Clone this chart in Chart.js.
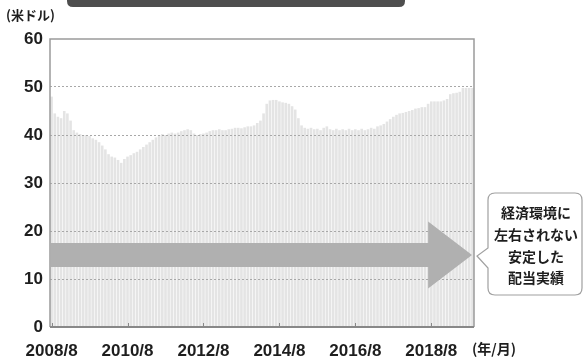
<!DOCTYPE html>
<html>
<head>
<meta charset="utf-8">
<script src="https://cdn.jsdelivr.net/npm/chart.js@4"></script>
<style>
  html, body { margin: 0; padding: 0; background: #fff; }
  #wrap { width: 584px; height: 358px; }
</style>
</head>
<body>
<div id="wrap"><canvas id="divChart" width="584" height="358"></canvas></div>
<script>
// monthly dividend, 2008/8 .. 2019/9 (US$)
var startYear = 2008, startMonth = 8;
var dividends = [
    48.0, 44.5, 43.8, 43.5, 45.0, 44.5, 43.0, 41.0, 40.5, 40.2,
    40.0, 40.0, 39.8, 39.3, 39.0, 38.5, 37.8, 37.0, 36.0, 35.5,
    35.3, 34.8, 34.2, 35.0, 35.5, 35.8, 36.2, 36.5, 37.0, 37.5,
    38.0, 38.5, 39.0, 39.5, 40.0, 40.2, 40.0, 40.3, 40.5, 40.3,
    40.5, 40.8, 41.0, 41.2, 41.0, 40.3, 40.0, 40.2, 40.3, 40.5,
    40.8, 41.0, 41.0, 41.2, 41.0, 41.0, 41.2, 41.3, 41.5, 41.5,
    41.4, 41.6, 41.8, 41.8, 42.0, 42.5, 43.0, 44.5, 46.5, 47.2,
    47.3, 47.3, 47.0, 46.8, 46.7, 46.5, 46.0, 45.3, 43.5, 42.0,
    41.5, 41.3, 41.5, 41.2, 41.3, 41.0, 41.5, 41.8, 41.2, 41.0,
    41.3, 41.0, 41.2, 41.0, 41.3, 41.0, 41.2, 41.0, 41.3, 41.0,
    41.2, 41.5, 41.3, 41.8, 42.0, 42.3, 42.8, 43.3, 43.8, 44.2,
    44.5, 44.6, 44.8, 45.0, 45.2, 45.5, 45.6, 45.8, 45.8, 46.5,
    47.0, 47.0, 47.0, 47.0, 47.2, 47.5, 48.5, 48.7, 48.8, 49.0,
    49.8, 49.8, 49.8, 49.8
];
var shownLabels = ['2008/8', '2010/8', '2012/8', '2014/8', '2016/8', '2018/8'];
var yTicks = [0, 10, 20, 30, 40, 50, 60];
var calloutLines = ['経済環境に', '左右されない', '安定した', '配当実績'];
var yUnit = '(米ドル)';
var xUnit = '(年/月)';

var months = [];
for (var i = 0; i < dividends.length; i++) {
    var m = startMonth - 1 + i;
    months.push((startYear + Math.floor(m / 12)) + '/' + (m % 12 + 1));
}

const cjk = "'Noto Sans CJK JP', sans-serif";

const decorPlugin = {
    id: 'decor',
    afterDraw(chart) {
        const ctx = chart.ctx, a = chart.chartArea;
        const xs = chart.scales.x, ys = chart.scales.y;
        ctx.save();

        // frame
        ctx.strokeStyle = '#9a9a9a';
        ctx.lineWidth = 1.5;
        ctx.beginPath();
        ctx.moveTo(a.left, a.bottom);
        ctx.lineTo(a.left, a.top);
        ctx.lineTo(a.right, a.top);
        ctx.lineTo(a.right, a.bottom);
        ctx.stroke();
        ctx.strokeStyle = '#888';
        ctx.lineWidth = 2;
        ctx.beginPath();
        ctx.moveTo(a.left, a.bottom);
        ctx.lineTo(a.right, a.bottom);
        ctx.stroke();

        // small inward ticks
        ctx.lineWidth = 1;
        shownLabels.forEach(function (lb) {
            var px = Math.round(xs.getPixelForValue(months.indexOf(lb))) + 0.5;
            ctx.beginPath();
            ctx.moveTo(px, a.bottom);
            ctx.lineTo(px, a.bottom - 4);
            ctx.stroke();
        });

        // big arrow
        var yT = ys.getPixelForValue(17.5), yB = ys.getPixelForValue(12.5);
        var hT = ys.getPixelForValue(22), hB = ys.getPixelForValue(8);
        var yM = ys.getPixelForValue(15);
        var hx = xs.getPixelForValue(119);
        var tip = a.right - 2;
        ctx.fillStyle = '#b0b0b0';
        ctx.beginPath();
        ctx.moveTo(a.left + 1, yT);
        ctx.lineTo(hx, yT);
        ctx.lineTo(hx, hT);
        ctx.lineTo(tip, yM);
        ctx.lineTo(hx, hB);
        ctx.lineTo(hx, yB);
        ctx.lineTo(a.left + 1, yB);
        ctx.closePath();
        ctx.fill();

        // callout box
        var bl = 488, br = 582, bt = 193, bb = 295, r = 7;
        ctx.fillStyle = '#fff';
        ctx.strokeStyle = '#a0a0a0';
        ctx.lineWidth = 1.2;
        ctx.beginPath();
        ctx.moveTo(bl + r, bt);
        ctx.lineTo(br - r, bt);
        ctx.quadraticCurveTo(br, bt, br, bt + r);
        ctx.lineTo(br, bb - r);
        ctx.quadraticCurveTo(br, bb, br - r, bb);
        ctx.lineTo(bl + r, bb);
        ctx.quadraticCurveTo(bl, bb, bl, bb - r);
        ctx.lineTo(bl, 268);
        ctx.lineTo(477, yM + 1);
        ctx.lineTo(bl, 248);
        ctx.lineTo(bl, bt + r);
        ctx.quadraticCurveTo(bl, bt, bl + r, bt);
        ctx.closePath();
        ctx.fill();
        ctx.stroke();

        ctx.fillStyle = '#1e1e1e';
        ctx.font = 'bold 14px ' + cjk;
        ctx.textAlign = 'center';
        ctx.textBaseline = 'middle';
        var ly = [213, 235, 257, 278];
        calloutLines.forEach(function (t, k) { ctx.fillText(t, 536, ly[k]); });

        // unit labels
        ctx.font = 'bold 13px ' + cjk;
        ctx.textAlign = 'left';
        ctx.fillText(yUnit, 6, 15);
        ctx.font = 'bold 14px ' + cjk;
        ctx.fillText(xUnit, 472, 349);

        // top banner (cropped)
        ctx.fillStyle = '#4e4e4e';
        ctx.beginPath();
        ctx.moveTo(67, 0);
        ctx.lineTo(405, 0);
        ctx.lineTo(405, 1);
        ctx.quadraticCurveTo(405, 7, 399, 7);
        ctx.lineTo(73, 7);
        ctx.quadraticCurveTo(67, 7, 67, 1);
        ctx.closePath();
        ctx.fill();

        ctx.restore();
    }
};

const divChart = new Chart(document.getElementById('divChart'), {
    type: 'bar',
    data: {
        labels: months,
        datasets: [{
            data: dividends,
            backgroundColor: '#e4e4e4',
            categoryPercentage: 1.0,
            barPercentage: 0.82
        }]
    },
    options: {
        responsive: false,
        animation: false,
        layout: { padding: { top: 39, right: 110, left: 0, bottom: 0 } },
        plugins: { legend: { display: false }, tooltip: { enabled: false } },
        scales: {
            x: {
                grid: { display: false },
                border: { display: false },
                ticks: {
                    autoSkip: false,
                    maxRotation: 0,
                    padding: 6,
                    color: '#1e1e1e',
                    font: { family: "'Liberation Sans', Arial, sans-serif", size: 17, weight: 'bold' },
                    callback: function (v) {
                        var lb = months[v];
                        return shownLabels.indexOf(lb) >= 0 ? lb : '';
                    }
                },
                afterFit: function (s) { s.height = 31; }
            },
            y: {
                min: 0,
                max: 60,
                afterBuildTicks: function (s) { s.ticks = yTicks.map(function (v) { return { value: v }; }); },
                grid: {
                    z: 1,
                    drawTicks: false,
                    color: function (c) { return (c.tick.value > 0 && c.tick.value < 60) ? '#a8a8a8' : 'rgba(0,0,0,0)'; },
                    lineWidth: 1
                },
                border: { display: false, dash: [2, 2] },
                ticks: {
                    padding: 7,
                    color: '#1e1e1e',
                    font: { family: "'Liberation Sans', Arial, sans-serif", size: 17, weight: 'bold' }
                },
                afterFit: function (s) { s.width = 50; }
            }
        }
    },
    plugins: [decorPlugin]
});
</script>
</body>
</html>
